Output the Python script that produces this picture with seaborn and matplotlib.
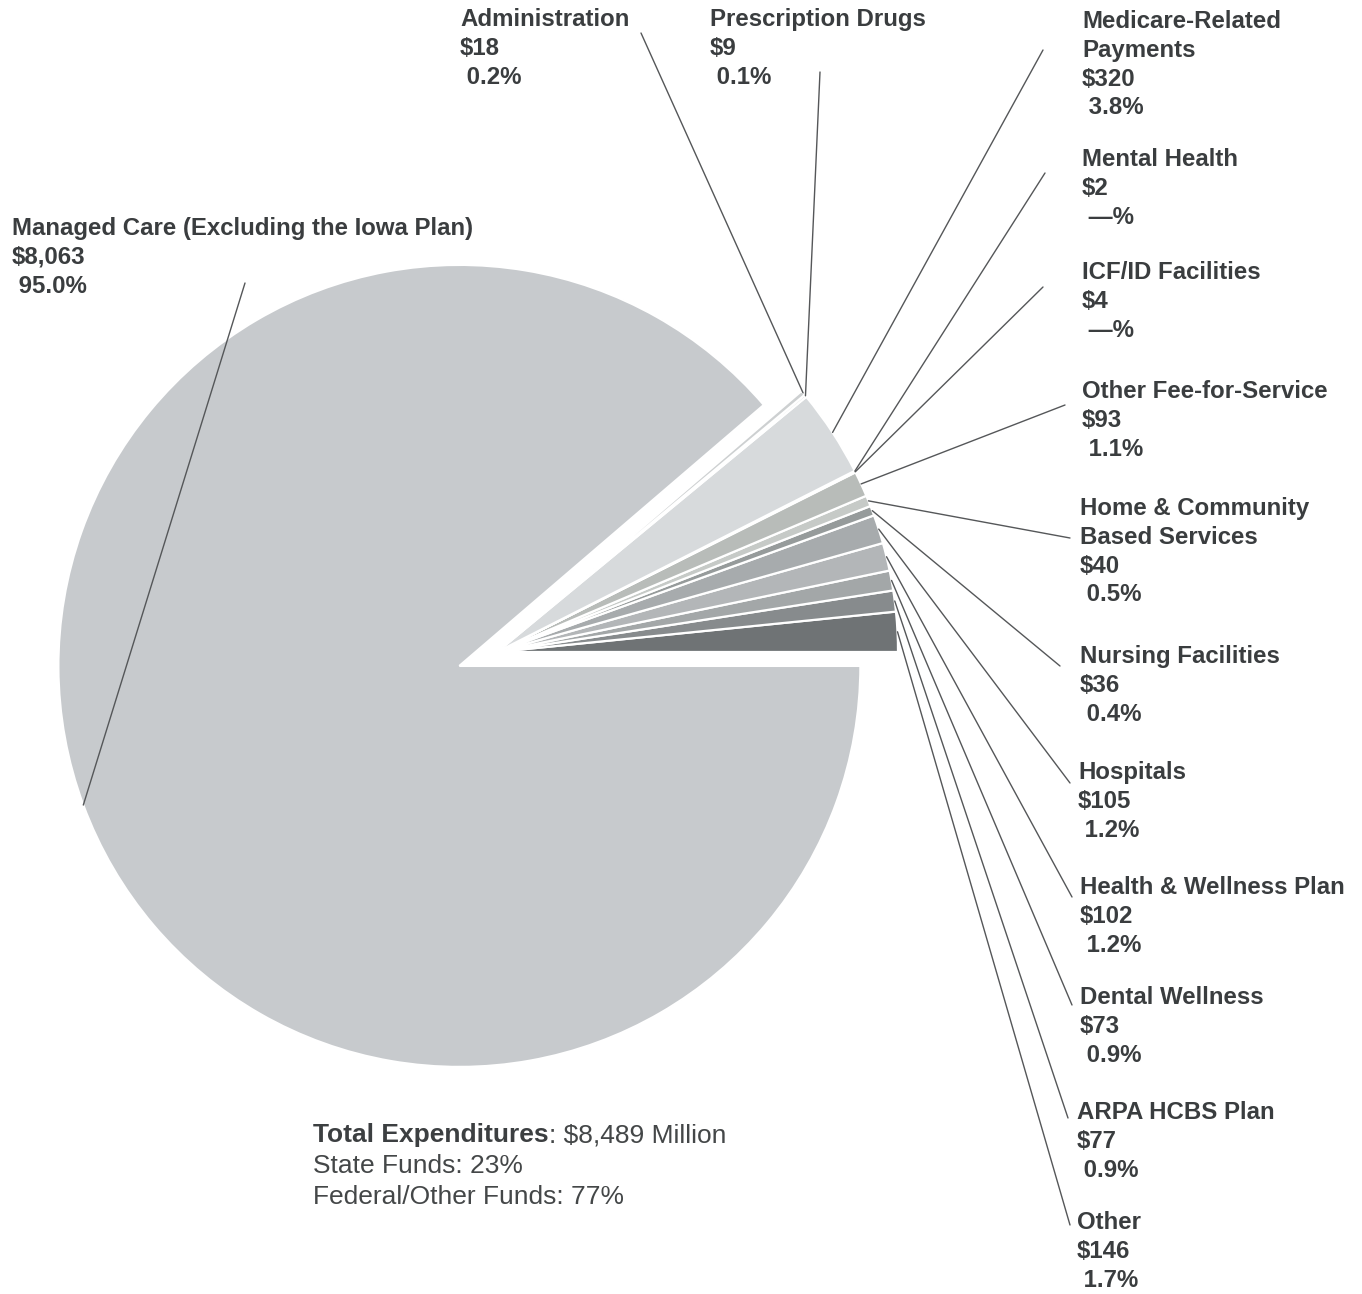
import matplotlib
matplotlib.use("Agg")
import matplotlib.pyplot as plt
import numpy as np
import seaborn as sns

# Medicaid expenditures by category ($ millions), in counter-clockwise wedge order
categories = [
    "Other",
    "ARPA HCBS Plan",
    "Dental Wellness",
    "Health & Wellness Plan",
    "Hospitals",
    "Nursing Facilities",
    "Home & Community\nBased Services",
    "Other Fee-for-Service",
    "ICF/ID Facilities",
    "Mental Health",
    "Medicare-Related\nPayments",
    "Prescription Drugs",
    "Administration",
    "Managed Care (Excluding the Iowa Plan)",
]
amounts = [146, 77, 73, 102, 105, 36, 40, 93, 4, 2, 320, 9, 18, 8063]
pct_labels = ["1.7%", "0.9%", "0.9%", "1.2%", "1.2%", "0.4%", "0.5%", "1.1%",
              "—%", "—%", "3.8%", "0.1%", "0.2%", "95.0%"]
total_label = "$8,489 Million"
state_share = "23%"
federal_share = "77%"

wedge_colors = ["#6f7375", "#878b8d", "#a3a7a8", "#b3b6b8", "#a7abad", "#969b9b",
                "#c6cac7", "#b8bcb9", "#c0c4c2", "#c4c7c6", "#d7dadc", "#c9cccd",
                "#cdd0d1", "#c7cacd"]

sns.set_theme(style="white")
plt.rcParams["font.family"] = ["Liberation Sans", "DejaVu Sans"]

W, H = 1362, 1294
R_PX = 401.0             # pie radius in pixels
APEX = (497.0, 652.0)    # pie centre in pixels

fig = plt.figure(figsize=(W / 100, H / 100), dpi=100)
ax = fig.add_axes([0, 0, 1, 1])

explode = [0.0] * (len(amounts) - 1) + [0.1]
wedges, _ = ax.pie(amounts, colors=wedge_colors, startangle=0, counterclock=True,
                   explode=explode, radius=1.0,
                   wedgeprops=dict(edgecolor="white", linewidth=1.6))

ax.set_xlim(-APEX[0] / R_PX, (W - APEX[0]) / R_PX)
ax.set_ylim(-(H - APEX[1]) / R_PX, APEX[1] / R_PX)
ax.set_aspect("equal")
ax.axis("off")

# label layout: text top-left corner and leader-line end, in pixels
label_layout = {
    "Other": ((1077, 1211), (1070, 1225)),
    "ARPA HCBS Plan": ((1077, 1101), (1068, 1118)),
    "Dental Wellness": ((1080, 986), (1072, 1005)),
    "Health & Wellness Plan": ((1080, 876), (1072, 897)),
    "Hospitals": ((1078, 761), (1070, 783)),
    "Nursing Facilities": ((1080, 645), (1060, 666)),
    "Home & Community\nBased Services": ((1080, 497), (1070, 538)),
    "Other Fee-for-Service": ((1082, 380), (1065, 405)),
    "ICF/ID Facilities": ((1082, 261), (1043, 287)),
    "Mental Health": ((1082, 148), (1045, 173)),
    "Medicare-Related\nPayments": ((1082, 10), (1043, 50)),
    "Prescription Drugs": ((710, 8), (820, 72)),
    "Administration": ((460, 8), (641, 33)),
    "Managed Care (Excluding the Iowa Plan)": ((12, 217), (245, 283)),
}

text_color = "#3a3d3f"
for w, name, amt, pct in zip(wedges, categories, amounts, pct_labels):
    (tx, ty), (lx, ly) = label_layout[name]
    fig.text(tx / W, 1 - ty / H, f"{name}\n${amt:,}\n {pct}",
             ha="left", va="top", fontsize=17.3, fontweight="bold",
             color=text_color, linespacing=1.32)
    mid = np.deg2rad((w.theta1 + w.theta2) / 2)
    cx, cy = w.center
    pt = (cx + w.r * np.cos(mid), cy + w.r * np.sin(mid))
    ax.annotate("", xy=pt, xycoords="data",
                xytext=(lx / W, 1 - ly / H), textcoords="figure fraction",
                arrowprops=dict(arrowstyle="-", color="#555759", lw=1.0,
                                shrinkA=0, shrinkB=0))

# totals block under the pie
t = fig.text(313 / W, 1 - 1142 / H, "Total Expenditures", ha="left",
             va="baseline", fontsize=19, fontweight="bold", color="#3c3f41")
ax.annotate(f": {total_label}", xy=(1, 0), xycoords=t, ha="left", va="bottom",
            fontsize=19, color="#444748")
fig.text(313 / W, 1 - 1173 / H, f"State Funds: {state_share}", ha="left",
         va="baseline", fontsize=19, color="#444748")
fig.text(313 / W, 1 - 1204 / H, f"Federal/Other Funds: {federal_share}",
         ha="left", va="baseline", fontsize=19, color="#444748")

fig.savefig("out.png", dpi=100, facecolor="white")
